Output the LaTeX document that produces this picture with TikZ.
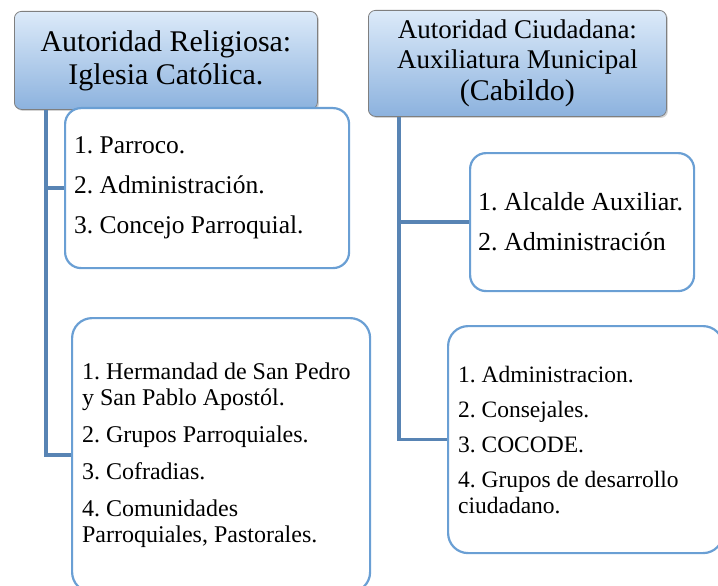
\documentclass[tikz,border=0pt]{standalone}
\usepackage{fontspec}
\setmainfont{Liberation Serif}
\usetikzlibrary{shadows}

\definecolor{headtop}{HTML}{DCEAF9}
\definecolor{headbot}{HTML}{8CB2DE}
\definecolor{headline}{HTML}{7F7F7F}
\definecolor{boxline}{HTML}{6A9FD4}
\definecolor{linkline}{HTML}{5884B4}

\begin{document}
\frenchspacing
\begin{tikzpicture}[x=1pt, y=-1pt,
	headbox/.style={draw=headline, line width=0.8pt, rounded corners=7pt, top color=headtop, bottom color=headbot,
		drop shadow={opacity=0.35, shadow xshift=1.5pt, shadow yshift=-1.5pt}, align=center, anchor=north west, inner sep=0pt},
	listbox/.style={draw=boxline, line width=2.2pt, fill=white, rounded corners=16pt, align=flush left, anchor=north west, inner xsep=9pt, inner ysep=0pt},
	link/.style={draw=linkline, line width=3.5pt}]
	\useasboundingbox (0,0) rectangle (718,586);
	% headers
	\node[headbox, minimum width=303pt, minimum height=98pt, font=\fontsize{30}{33}\selectfont] (relhead) at (14,11)
		{Autoridad Religiosa:\\Iglesia Católica.};
	\node[headbox, minimum width=298pt, minimum height=106pt, font=\fontsize{27}{30}\selectfont] (civhead) at (368,10)
		{Autoridad Ciudadana:\\Auxiliatura Municipal\\[2pt]{\fontsize{30}{30}\selectfont (Cabildo)}};
	% lists
	\node[listbox, text width=266pt, minimum height=160pt, font=\fontsize{25.5}{40}\selectfont] (relA) at (64,107)
		{1. Parroco.\\2. Administración.\\3. Concejo Parroquial.};
	\node[listbox, rounded corners=20pt, inner xsep=10pt, text width=278pt, minimum height=274pt, font=\fontsize{24}{26}\selectfont] (relB) at (71,317)
		{1. Hermandad de San Pedro\\y San Pablo Apostól.\\[11pt]2. Grupos Parroquiales.\\[11pt]3. Cofradias.\\[11pt]4. Comunidades\\Parroquiales, Pastorales.};
	\node[listbox, inner xsep=8pt, text width=208pt, minimum height=138pt, font=\fontsize{26}{40}\selectfont] (civA) at (469,152)
		{1. Alcalde Auxiliar.\\2. Administración};
	\node[listbox, rounded corners=20pt, inner xsep=10pt, text width=255pt, minimum height=227pt, font=\fontsize{23.5}{26}\selectfont] (civB) at (447,325)
		{1. Administracion.\\[9pt]2. Consejales.\\[9pt]3. COCODE.\\[9pt]4. Grupos de desarrollo\\ciudadano.};
	% connectors
	\coordinate (relroot) at ([xshift=32pt]relhead.south west);
	\coordinate (civroot) at ([xshift=31pt]civhead.south west);
	\draw[link] (relroot) |- (relA.west);
	\draw[link] (relroot) |- (relB.west);
	\draw[link] (civroot) |- (civA.west);
	\draw[link] (civroot) |- (civB.west);
\end{tikzpicture}
\end{document}
